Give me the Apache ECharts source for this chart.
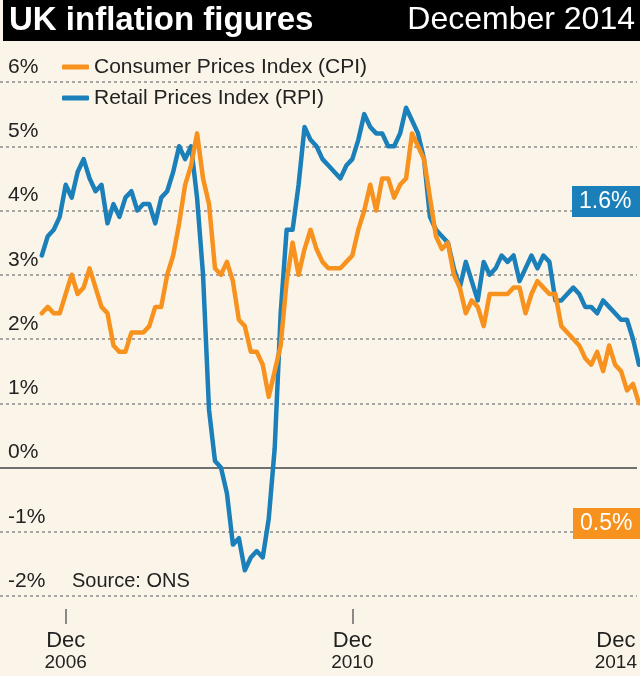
<!DOCTYPE html>
<html>
<head>
<meta charset="utf-8">
<script src="https://cdn.jsdelivr.net/npm/echarts@6/dist/echarts.min.js"></script>
<style>
html,body{margin:0;padding:0;background:#fbf5e9;}
#chart{width:640px;height:676px;}
</style>
</head>
<body>
<div id="chart"></div>
<script>
// Month categories: Aug 2006 ... Dec 2014
const monthNames = ['Jan','Feb','Mar','Apr','May','Jun','Jul','Aug','Sep','Oct','Nov','Dec'];
const months = [];
for (let y = 2006, m = 7; months.length < 101;) {
  months.push(monthNames[m] + ' ' + y);
  m++; if (m === 12) { m = 0; y++; }
}

// Retail Prices Index (RPI), annual % change
const rpi = [
  3.3, 3.6, 3.7, 3.9, 4.4,
  4.2, 4.6, 4.8, 4.5, 4.3, 4.4, 3.8, 4.1, 3.9, 4.2, 4.3, 4.0,
  4.1, 4.1, 3.8, 4.2, 4.3, 4.6, 5.0, 4.8, 5.0, 4.2, 3.0, 0.9,
  0.1, 0.0, -0.4, -1.2, -1.1, -1.6, -1.4, -1.3, -1.4, -0.8, 0.3, 2.4,
  3.7, 3.7, 4.4, 5.3, 5.1, 5.0, 4.8, 4.7, 4.6, 4.5, 4.7, 4.8,
  5.1, 5.5, 5.3, 5.2, 5.2, 5.0, 5.0, 5.2, 5.6, 5.4, 5.2, 4.8,
  3.9, 3.7, 3.6, 3.5, 3.1, 2.8, 3.2, 2.9, 2.6, 3.2, 3.0, 3.1,
  3.3, 3.2, 3.3, 2.9, 3.1, 3.3, 3.1, 3.3, 3.2, 2.6, 2.6, 2.7,
  2.8, 2.7, 2.5, 2.5, 2.4, 2.6, 2.5, 2.4, 2.3, 2.3, 2.0, 1.6
];

// Consumer Prices Index (CPI), annual % change, as drawn
const cpi = [
  2.4, 2.5, 2.4, 2.4, 2.7,
  3.0, 2.7, 2.8, 3.1, 2.8, 2.5, 2.4, 1.9, 1.8, 1.8, 2.1, 2.1,
  2.1, 2.2, 2.5, 2.5, 3.0, 3.3, 3.8, 4.4, 4.7, 5.2, 4.5, 4.1,
  3.1, 3.0, 3.2, 2.9, 2.3, 2.2, 1.8, 1.8, 1.6, 1.1, 1.5, 1.9,
  2.9, 3.5, 3.0, 3.4, 3.7, 3.4, 3.2, 3.1, 3.1, 3.1, 3.2, 3.3,
  3.7, 4.0, 4.4, 4.0, 4.5, 4.5, 4.2, 4.4, 4.5, 5.2, 5.0, 4.8,
  4.2, 3.6, 3.4, 3.5, 3.0, 2.8, 2.4, 2.6, 2.5, 2.2, 2.7, 2.7,
  2.7, 2.7, 2.8, 2.8, 2.4, 2.7, 2.9, 2.8, 2.7, 2.7, 2.2, 2.1,
  2.0, 1.9, 1.7, 1.6, 1.8, 1.5, 1.9, 1.6, 1.5, 1.2, 1.3, 1.0
];

const xTickLabels = ['Dec 2006', 'Dec 2010', 'Dec 2014'];
const yTicks = [-2, -1, 0, 1, 2, 3, 4, 5, 6];
const latestRPI = '1.6%';
const latestCPI = '0.5%';

const BLUE = '#1b7fba';
const ORANGE = '#f7921e';
const FONT = '"Liberation Sans", Arial, Helvetica, sans-serif';

const X_MIN = -7, X_MAX = 99.67;
const tickIdx = xTickLabels.map(l => months.indexOf(l));
const labelVals = [tickIdx[0], tickIdx[1], X_MAX];

const chart = echarts.init(document.getElementById('chart'));
chart.setOption({
  animation: false,
  backgroundColor: '#fbf5e9',
  grid: { left: 0, right: 0, top: 82, bottom: 80, containLabel: false },
  legend: {
    orient: 'vertical',
    left: 62, top: 56, padding: 0,
    itemWidth: 27, itemHeight: 5, itemGap: 9,
    icon: 'roundRect',
    data: ['Consumer Prices Index (CPI)', 'Retail Prices Index (RPI)'],
    textStyle: { fontSize: 21, fontFamily: FONT, color: '#222', lineHeight: 22, padding: [0, 0, 0, 0] }
  },
  xAxis: {
    type: 'value',
    min: X_MIN, max: X_MAX,
    offset: 13,
    splitLine: { show: false },
    axisLine: { show: false, onZero: false },
    axisTick: { show: true, length: 15, inside: false, customValues: [tickIdx[0], tickIdx[1]], lineStyle: { color: '#666', width: 1.5 } },
    axisLabel: {
      customValues: labelVals,
      margin: 21,
      alignMaxLabel: 'right',
      formatter: function (v) {
        const lbl = months[Math.min(months.length - 1, Math.round(v))];
        const parts = lbl.split(' ');
        return '{m|' + parts[0] + '}\n{y|' + parts[1] + '}';
      },
      rich: {
        m: { fontSize: 22, lineHeight: 22, color: '#222', fontFamily: FONT, align: 'center' },
        y: { fontSize: 19, lineHeight: 21, color: '#222', fontFamily: FONT, align: 'center' }
      }
    }
  },
  yAxis: {
    type: 'value', min: yTicks[0], max: yTicks[yTicks.length - 1], interval: 1,
    axisLine: { show: false }, axisTick: { show: false },
    axisLabel: {
      inside: true, margin: 8,
      formatter: '{value}%',
      color: '#222', fontSize: 21, fontFamily: FONT,
      verticalAlign: 'bottom', lineHeight: 22, padding: [0, 0, 4, 0]
    },
    splitLine: { lineStyle: { color: '#8c8c8c', type: [3, 3], width: 1.5 } }
  },
  series: [
    {
      name: 'Retail Prices Index (RPI)', type: 'line',
      data: rpi.map((v, i) => [i, v]),
      symbol: 'none', showSymbol: false,
      lineStyle: { color: BLUE, width: 4.5, join: 'round', cap: 'round' },
      itemStyle: { color: BLUE },
      z: 3,
      markLine: {
        silent: true, symbol: 'none', label: { show: false },
        lineStyle: { color: '#707070', type: 'solid', width: 2 },
        data: [{ yAxis: 0 }],
        z: 1
      }
    },
    {
      name: 'Consumer Prices Index (CPI)', type: 'line',
      data: cpi.map((v, i) => [i, v]),
      symbol: 'none', showSymbol: false,
      lineStyle: { color: ORANGE, width: 4.5, join: 'round', cap: 'round' },
      itemStyle: { color: ORANGE },
      z: 4
    }
  ],
  graphic: [
    { type: 'rect', left: 3, top: 0, shape: { width: 637, height: 41 }, style: { fill: '#000' }, z: 10 },
    { type: 'text', left: 9, top: 4, style: { text: 'UK inflation figures', fill: '#fff', font: 'bold 33px ' + FONT }, z: 11 },
    { type: 'text', right: 5, top: 4, style: { text: 'December 2014', fill: '#fff', font: '32px ' + FONT }, z: 11 },
    { type: 'text', left: 72, top: 571, style: { text: 'Source: ONS', fill: '#222', font: '20px ' + FONT }, z: 11 },
    { type: 'rect', left: 572, top: 186, shape: { width: 68, height: 31 }, style: { fill: BLUE }, z: 10 },
    { type: 'text', left: 579, top: 190, style: { text: latestRPI, fill: '#fff', font: '23px ' + FONT }, z: 11 },
    { type: 'rect', left: 573, top: 508, shape: { width: 67, height: 31 }, style: { fill: ORANGE }, z: 10 },
    { type: 'text', left: 580, top: 512, style: { text: latestCPI, fill: '#fff', font: '23px ' + FONT }, z: 11 }
  ]
});
</script>
</body>
</html>
